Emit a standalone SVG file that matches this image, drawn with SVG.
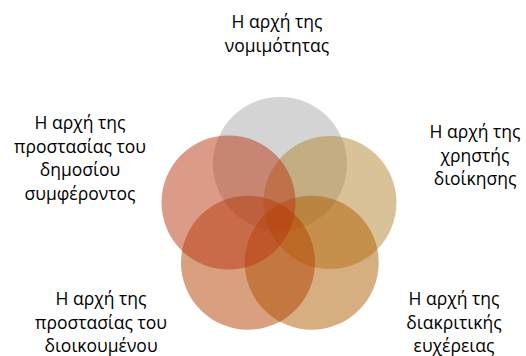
<svg xmlns="http://www.w3.org/2000/svg" width="526" height="356" viewBox="0 0 526 356">
<style>
.lbl{font-family:"Open Sans","Liberation Sans",sans-serif;font-size:17.5px;fill:#000;text-anchor:middle}
.c{fill-opacity:0.5;stroke:none}
</style>
<rect width="526" height="356" fill="#fff"/>
<g id="circles">
<g id="n1"><circle class="c" cx="280" cy="164" r="67" fill="#a9a9a9"/></g>
<g id="n2"><circle class="c" cx="330" cy="202.5" r="66.5" fill="#b3852f"/></g>
<g id="n3"><circle class="c" cx="311.7" cy="262.7" r="67" fill="#b05d00"/></g>
<g id="n4"><circle class="c" cx="248" cy="262.7" r="67" fill="#b14100"/></g>
<g id="n5"><circle class="c" cx="228.5" cy="202.5" r="67" fill="#b93511"/></g>
</g>
<g id="labels">
<g id="t1"><text class="lbl" x="277" y="28">Η αρχή της</text><text class="lbl" x="277" y="51.5">νομιμότητας</text></g>
<g id="t2"><text class="lbl" x="475" y="138">Η αρχή της</text><text class="lbl" x="475" y="161.5">χρηστής</text><text class="lbl" x="475" y="185">διοίκησης</text></g>
<g id="t3"><text class="lbl" x="454" y="305">Η αρχή της</text><text class="lbl" x="454" y="328.5">διακριτικής</text><text class="lbl" x="454" y="352">ευχέρειας</text></g>
<g id="t4"><text class="lbl" x="101" y="305">Η αρχή της</text><text class="lbl" x="101" y="328.5">προστασίας του</text><text class="lbl" x="101" y="352">διοικουμένου</text></g>
<g id="t5"><text class="lbl" x="80" y="129">Η αρχή της</text><text class="lbl" x="80" y="152.5">προστασίας του</text><text class="lbl" x="80" y="176">δημοσίου</text><text class="lbl" x="80" y="199.5">συμφέροντος</text></g>
</g>
</svg>
